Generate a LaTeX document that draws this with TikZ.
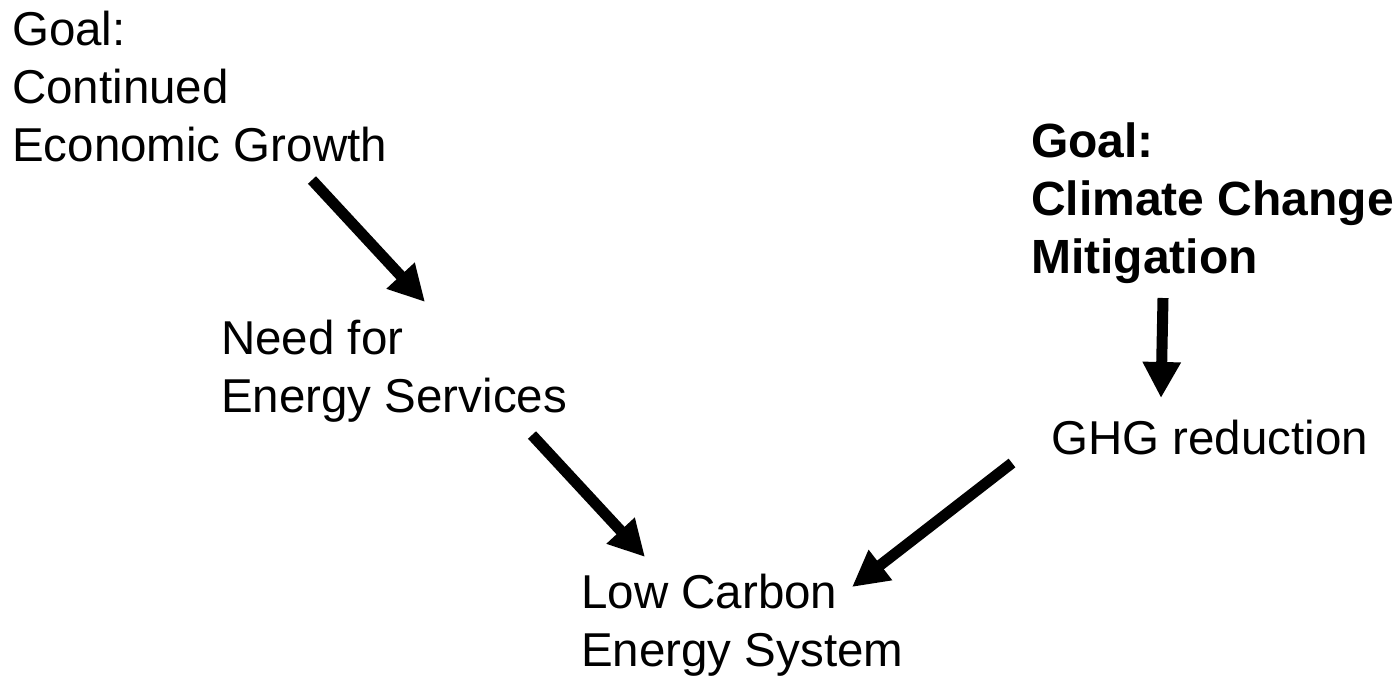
\documentclass[tikz,border=0pt]{standalone}
\usepackage{fontspec}
\setmainfont{Liberation Sans}
\usetikzlibrary{arrows.meta}
\begin{document}
\begin{tikzpicture}[x=1pt,y=-1pt,
  label text/.style={anchor=base west,inner sep=0pt,align=left,
    font=\fontsize{47.5}{58}\selectfont},
  goal text/.style={label text,font=\fontsize{48}{58}\selectfont\bfseries},
  flow/.style={line width=11pt,-{Triangle[length=36pt,width=36pt]}}]
  \useasboundingbox (0,0) rectangle (1399,678);
  % text blocks (placed by the baseline of their last line)
  \node[label text] (growth) at (12,161) {Goal:\\Continued\\Economic Growth};
  \node[label text] (need) at (221,412) {Need for\\Energy Services};
  \node[label text] (lowc) at (581,666) {Low Carbon\\Energy System};
  \node[goal text] (climate) at (1031,273) {Goal:\\Climate Change\\Mitigation};
  \node[label text] (ghg) at (1051,454) {GHG reduction};
  % arrow end points
  \coordinate (a1s) at (312,180);
  \coordinate (a1e) at (425,302);
  \coordinate (a2s) at (532,435);
  \coordinate (a2e) at (645,557);
  \coordinate (a3s) at (1163,298);
  \coordinate (a3e) at (1161,398);
  \coordinate (a4s) at (1012,463);
  \coordinate (a4e) at (852,587);
  % arrows
  \draw[flow] (a1s) -- (a1e);
  \draw[flow] (a2s) -- (a2e);
  \draw[flow] (a3s) -- (a3e);
  \draw[flow] (a4s) -- (a4e);
\end{tikzpicture}
\end{document}
